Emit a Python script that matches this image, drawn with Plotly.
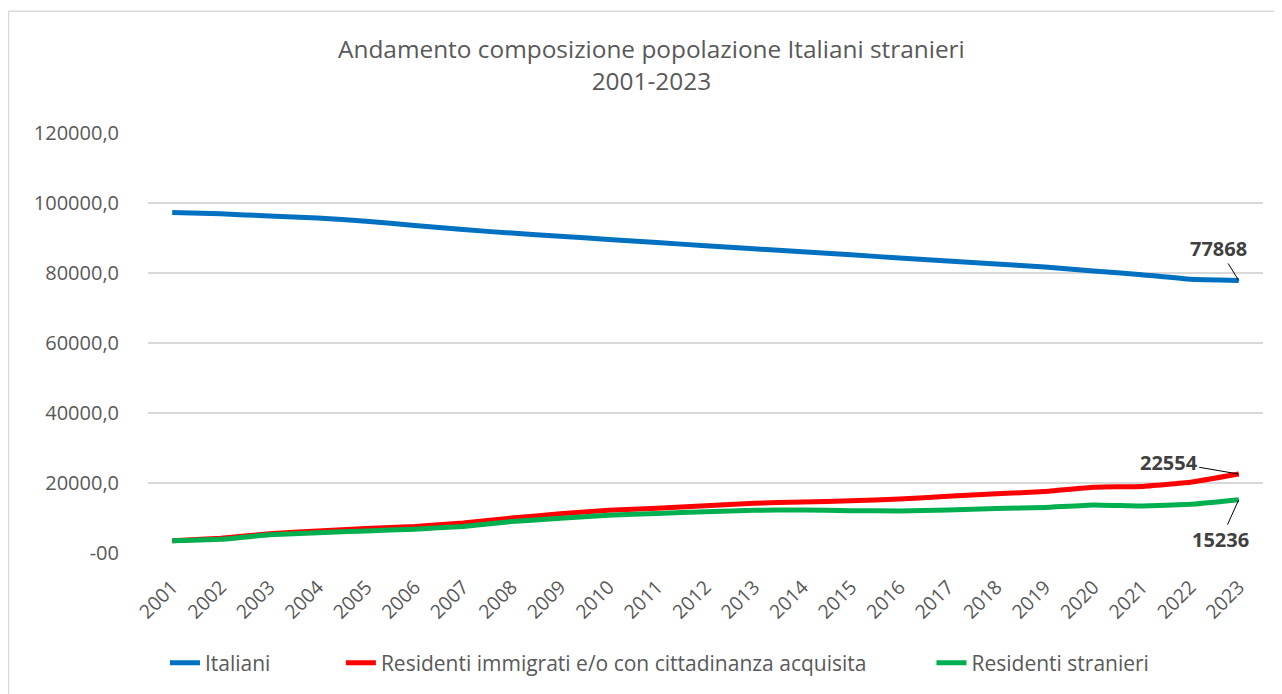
import plotly.graph_objects as go

years = list(range(2001, 2024))
year_labels = [str(y) for y in years]
italiani = [97300, 96900, 96300, 95700, 94800, 93600, 92400, 91400, 90500,
            89600, 88700, 87800, 86900, 86100, 85200, 84300, 83400, 82600,
            81700, 80600, 79500, 78200, 77868]
immigrati = [3500, 4200, 5500, 6300, 7000, 7600, 8600, 10000, 11200, 12200,
             12800, 13500, 14200, 14600, 14900, 15400, 16200, 16900, 17600,
             18800, 19000, 20200, 22554]
stranieri = [3500, 3900, 5200, 5800, 6300, 6800, 7600, 9000, 9900, 10800,
             11300, 11800, 12200, 12300, 12100, 12000, 12300, 12700, 13000,
             13700, 13400, 13900, 15236]

series_names = ["Italiani", "Residenti immigrati e/o con cittadinanza acquisita",
                "Residenti stranieri"]
name_pad = [12, 11, 0]
colors = ["#0070C0", "#FF0000", "#00B050"]

ytickvals = [0, 20000, 40000, 60000, 80000, 100000, 120000]
yticktext = ["-00", "20000,0", "40000,0", "60000,0", "80000,0", "100000,0", "120000,0"]

FONT = "Open Sans"
GREY = "#595959"

fig = go.Figure()
for name, pad, vals, col in zip(series_names, name_pad,
                                [italiani, immigrati, stranieri], colors):
    fig.add_trace(go.Scatter(x=years, y=vals, name=name + "\u00a0" * pad, mode="lines",
                             line=dict(color=col, width=5, shape="spline", smoothing=0.3)))

# data labels with leader lines
labels = [(italiani, -20, -32), (immigrati, -70, -12), (stranieri, -18, 40)]
for vals, ax, ay in labels:
    fig.add_annotation(x=years[-1], y=vals[-1], xref="x", yref="y",
                       text="<b>%d</b>" % vals[-1],
                       showarrow=True, arrowhead=0, arrowwidth=1, arrowcolor="#000000",
                       ax=ax, ay=ay, font=dict(family=FONT, size=20, color="#404040"))

# chart border
fig.add_shape(type="rect", xref="paper", yref="paper",
              x0=-0.1251, x1=1.03, y0=-0.4, y1=1.2898,
              line=dict(color="#D9D9D9", width=1.5), fillcolor="rgba(0,0,0,0)", layer="below")

fig.update_layout(
    width=1274, height=686,
    paper_bgcolor="white", plot_bgcolor="white",
    margin=dict(l=140, r=19, t=125, b=140),
    title=dict(text="Andamento composizione popolazione Italiani stranieri<br>2001-2023",
               x=0.505, xanchor="center", xref="container", y=0.927, yanchor="middle",
               font=dict(family=FONT, size=24.4, color=GREY)),
    font=dict(family=FONT, color=GREY),
    xaxis=dict(range=[2000.5, 2023.5], tickmode="array", tickvals=years,
               ticktext=year_labels, tickangle=-45,
               tickfont=dict(size=19.5, color=GREY), showgrid=False, zeroline=False,
               showline=False, ticks="outside", ticklen=14, tickcolor="rgba(0,0,0,0)"),
    yaxis=dict(range=[0, 120000], tickvals=ytickvals, ticktext=yticktext,
               tickfont=dict(size=20, color=GREY), gridcolor="#D9D9D9", gridwidth=1.5,
               zeroline=False, showline=False, ticks="", ticklabelstandoff=28),
    legend=dict(orientation="h", x=0.0152, xanchor="left", y=-0.2589, yanchor="middle",
                font=dict(size=21, color=GREY), bgcolor="rgba(0,0,0,0)"),
    showlegend=True,
)

fig.write_html("out.html")
